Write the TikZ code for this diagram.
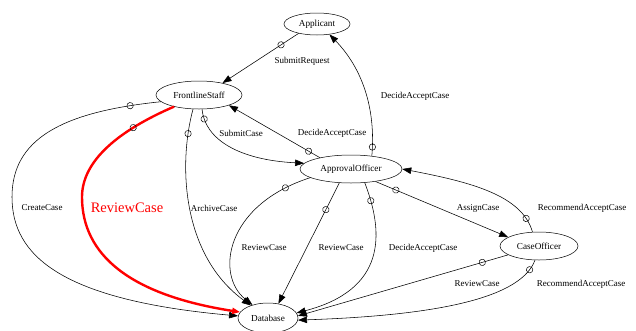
\documentclass[tikz,border=0pt]{standalone}
\usepackage{fontspec}
\setmainfont{Liberation Serif}
\usetikzlibrary{shapes.geometric,arrows.meta,decorations.markings}
\begin{document}
\begin{tikzpicture}[x=1pt,y=-1pt,
  state/.style={draw, ellipse, inner sep=0pt, line width=0.5pt, font=\fontsize{9.2}{10}\selectfont},
  edge/.style={draw, line width=0.55pt, -{Triangle[length=9pt,width=6.5pt]}},
  lbl/.style={font=\fontsize{9}{10}\selectfont, inner sep=0pt},
  tailc/.style={postaction={decorate, decoration={markings, mark=at position #1 with {\draw[black, line width=0.5pt] (0,0) circle (3.2pt);}}}}
]
\useasboundingbox (0,0) rectangle (636,330);

\node[state, minimum width=66pt, minimum height=22pt] (App) at (317,24) {Applicant};
\node[state, minimum width=86pt, minimum height=28pt] (FS) at (199,95) {FrontlineStaff};
\node[state, minimum width=102pt, minimum height=28pt] (AO) at (351,169) {ApprovalOfficer};
\node[state, minimum width=78pt, minimum height=28pt] (CO) at (539,246) {CaseOfficer};
\node[state, minimum width=60pt, minimum height=30pt] (DB) at (268,318) {Database};

% Applicant -> FrontlineStaff
\draw[edge, tailc=21pt] (App.207) -- (FS.27);
\node[lbl] (l1) at (302,61) {SubmitRequest};

% ApprovalOfficer -> Applicant
\draw[edge, tailc=9pt] (AO.32) .. controls (376,108) and (362,68) .. (App.320);
\node[lbl] (l2) at (415,96) {DecideAcceptCase};

% ApprovalOfficer -> FrontlineStaff
\draw[edge, tailc=13pt] (AO.160) -- (FS.341);
\node[lbl] (l3) at (332,133) {DecideAcceptCase};

% FrontlineStaff -> ApprovalOfficer
\draw[edge, tailc=10pt] (FS.282) .. controls (205,140) and (240,160) .. (AO.173);
\node[lbl] (l4) at (241,133) {SubmitCase};

% FrontlineStaff -> Database (CreateCase)
\draw[edge, tailc=31pt] (FS.190) .. controls (60,112) and (12,140) .. (12,197)
   .. controls (12,255) and (60,300) .. (DB.176);
\node[lbl] (l5) at (42,208) {CreateCase};

% FrontlineStaff -> Database (ReviewCase, red)
\draw[edge, red, line width=2.4pt, -{Triangle[length=8pt,width=6pt]}, tailc=46pt] (FS.205) .. controls (120,130) and (82,160) .. (82,197)
   .. controls (82,255) and (130,295) .. (DB.168);
\node[lbl, text=red, font=\fontsize{14.5}{16}\selectfont] (l6) at (127,208) {ReviewCase};

% FrontlineStaff -> Database (ArchiveCase)
\draw[edge, tailc=25pt] (FS.247) .. controls (178,165) and (182,255) .. (DB.144);
\node[lbl] (l7) at (214,208) {ArchiveCase};

% ApprovalOfficer -> Database (ReviewCase left)
\draw[edge, tailc=27pt] (AO.192) .. controls (225,205) and (215,275) .. (DB.140);
\node[lbl] (l8) at (264,248) {ReviewCase};

% ApprovalOfficer -> Database (ReviewCase middle)
\draw[edge, tailc=30pt] (AO.230) -- (DB.54);
\node[lbl] (l9) at (341,248) {ReviewCase};

% ApprovalOfficer -> Database (DecideAcceptCase)
\draw[edge, tailc=19pt] (AO.315) .. controls (385,235) and (385,290) .. (DB.10);
\node[lbl] (l10) at (423,248) {DecideAcceptCase};

% ApprovalOfficer -> CaseOfficer
\draw[edge, tailc=22pt] (AO.333) -- (CO.164);
\node[lbl] (l11) at (478,208) {AssignCase};

% CaseOfficer -> ApprovalOfficer
\draw[edge, tailc=15pt] (CO.115) .. controls (522,195) and (470,182) .. (AO.0);
\node[lbl] (l12) at (582,208) {RecommendAcceptCase};

% CaseOfficer -> Database (ReviewCase)
\draw[edge, tailc=27pt] (CO.196) -- (DB.4);
\node[lbl] (l13) at (477,284) {ReviewCase};

% CaseOfficer -> Database (RecommendAcceptCase)
\draw[edge, tailc=11pt] (CO.254) .. controls (522,295) and (450,315) .. (DB.356);
\node[lbl] (l14) at (581,284) {RecommendAcceptCase};
\end{tikzpicture}
\end{document}
